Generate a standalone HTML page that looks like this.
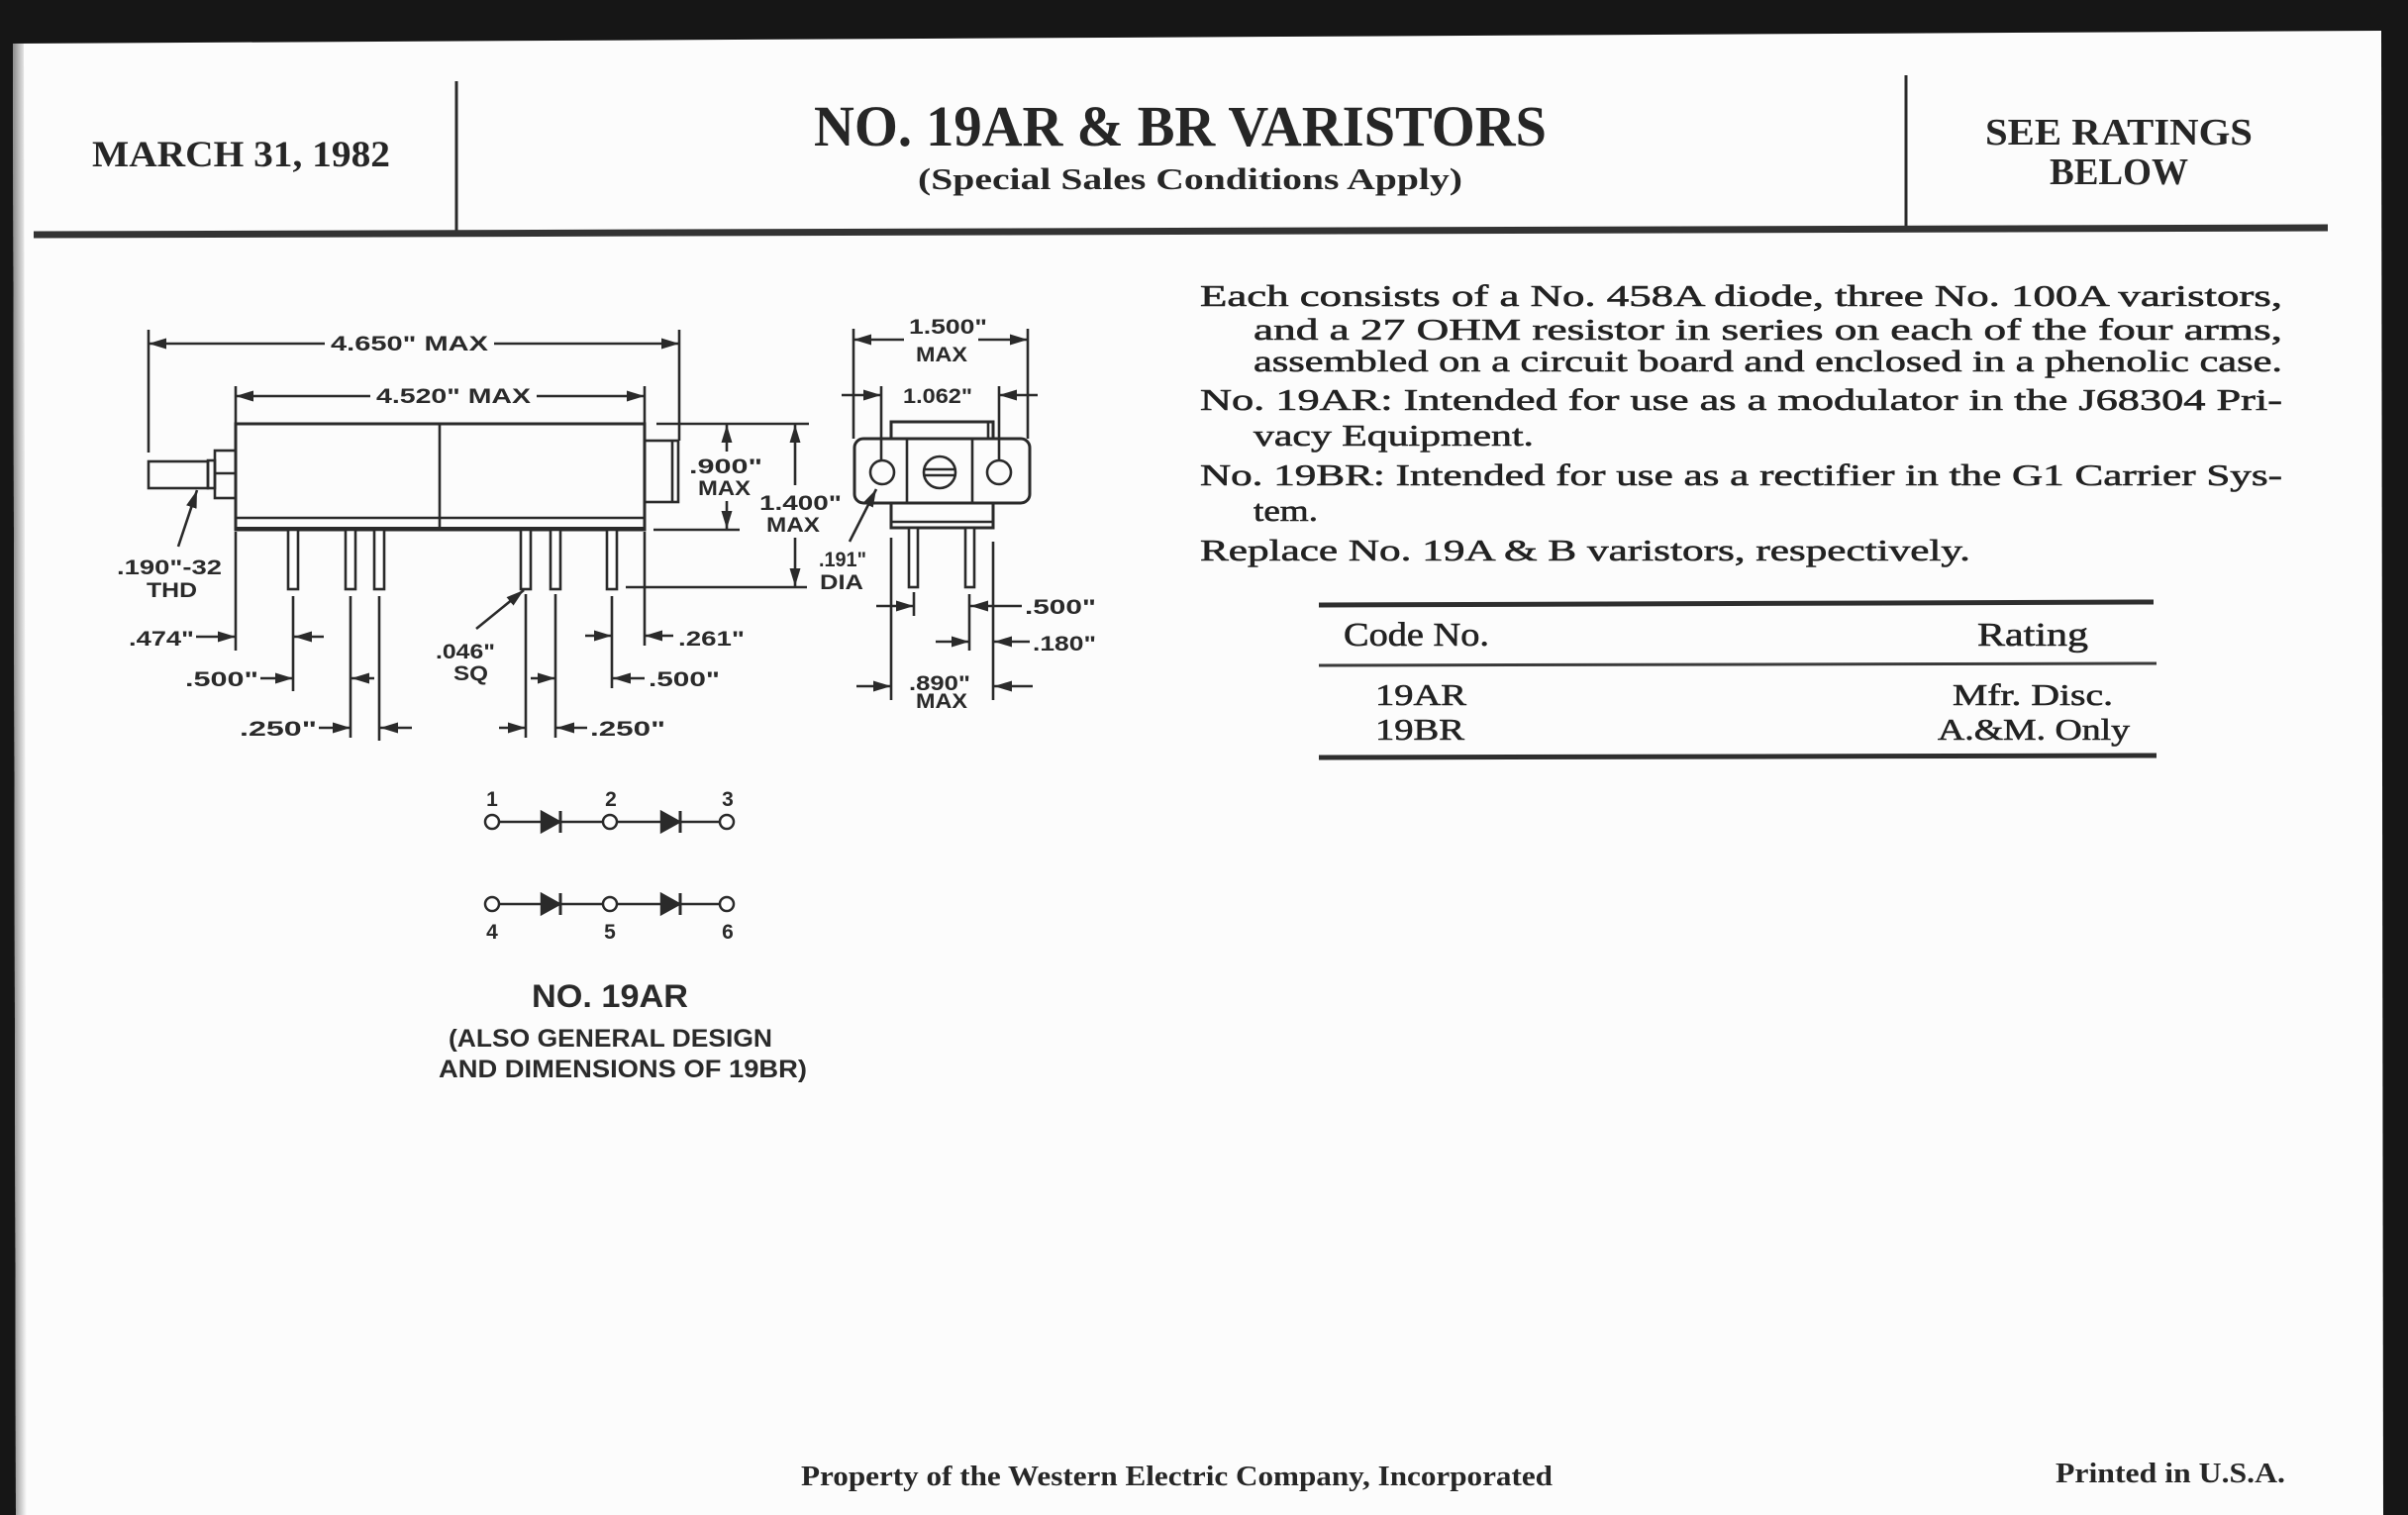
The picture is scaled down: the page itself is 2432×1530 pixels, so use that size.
<!DOCTYPE html>
<html><head><meta charset="utf-8"><style>
html,body{margin:0;padding:0;background:#161616;}
svg{display:block}
.hd{font-family:"Liberation Serif",serif;font-weight:bold;fill:#262626;}
.bd{font-family:"Liberation Serif",serif;fill:#222;stroke:#222;stroke-width:0.6;}
.dm{font-family:"Liberation Sans","DejaVu Sans",sans-serif;font-weight:bold;fill:#2a2a2a;font-size:21px;}
</style></head><body>
<svg xmlns="http://www.w3.org/2000/svg" width="2432" height="1530" viewBox="0 0 2432 1530">
<defs>
<marker id="ah" markerWidth="18" markerHeight="12" refX="18" refY="6" orient="auto" markerUnits="userSpaceOnUse"><path d="M0,0.5 L18,6 L0,11.5 z" fill="#2a2a2a"/></marker>
<linearGradient id="lg" x1="0" x2="1"><stop offset="0" stop-color="#8a8a8a"/><stop offset="1" stop-color="#fcfcfc"/></linearGradient>
</defs>
<rect width="2432" height="1530" fill="#161616"/>
<polygon points="13,44 2405,31 2407,1530 16,1530" fill="#fcfcfc"/>
<polygon points="13,44 24,44 27,1530 16,1530" fill="url(#lg)"/>

<!-- HEADER -->
<text class="hd" x="93" y="168" font-size="37" textLength="301" lengthAdjust="spacingAndGlyphs">MARCH 31, 1982</text>
<text class="hd" x="822" y="147" font-size="58" textLength="740" lengthAdjust="spacingAndGlyphs">NO. 19AR &amp; BR VARISTORS</text>
<text class="hd" x="927" y="191" font-size="31" textLength="550" lengthAdjust="spacingAndGlyphs">(Special Sales Conditions Apply)</text>
<text class="hd" x="2005" y="146" font-size="38" textLength="270" lengthAdjust="spacingAndGlyphs">SEE RATINGS</text>
<text class="hd" x="2070" y="186" font-size="38" textLength="140" lengthAdjust="spacingAndGlyphs">BELOW</text>
<line x1="461" y1="82" x2="461" y2="234" stroke="#2a2a2a" stroke-width="3"/>
<line x1="1925" y1="76" x2="1925" y2="229" stroke="#2a2a2a" stroke-width="3"/>
<line x1="34" y1="237" x2="2351" y2="230" stroke="#333" stroke-width="7"/>

<!-- SIDE VIEW DRAWING -->
<g stroke="#2a2a2a" stroke-width="2.6" fill="none">
  <line x1="150" y1="333" x2="150" y2="457"/>
  <line x1="686" y1="333" x2="686" y2="445"/>
  <line x1="328" y1="347" x2="150" y2="347" marker-end="url(#ah)"/>
  <line x1="499" y1="347" x2="686" y2="347" marker-end="url(#ah)"/>
  <line x1="238" y1="390" x2="238" y2="428"/>
  <line x1="651" y1="390" x2="651" y2="428"/>
  <line x1="374" y1="400" x2="238" y2="400" marker-end="url(#ah)"/>
  <line x1="542" y1="400" x2="651" y2="400" marker-end="url(#ah)"/>
  <rect x="238" y="428" width="413" height="107" stroke-width="3"/>
  <line x1="238" y1="523" x2="651" y2="523"/>
  <line x1="238" y1="534" x2="651" y2="534" stroke-width="4"/>
  <line x1="444" y1="428" x2="444" y2="535"/>
  <rect x="217" y="455" width="21" height="48"/>
  <line x1="217" y1="478" x2="238" y2="478"/>
  <rect x="210" y="465" width="7" height="28"/>
  <rect x="150" y="466" width="60" height="27"/>
  <rect x="651" y="445" width="34" height="62"/>
  <line x1="679" y1="445" x2="679" y2="507"/>
  <rect x="291" y="535" width="10" height="60" fill="#fff"/>
  <rect x="349" y="535" width="10" height="60" fill="#fff"/>
  <rect x="378" y="535" width="10" height="60" fill="#fff"/>
  <rect x="526" y="535" width="10" height="60" fill="#fff"/>
  <rect x="556" y="535" width="10" height="60" fill="#fff"/>
  <rect x="613" y="535" width="10" height="60" fill="#fff"/>
  <line x1="238" y1="537" x2="238" y2="657"/>
  <line x1="296" y1="602" x2="296" y2="698"/>
  <line x1="354" y1="602" x2="354" y2="745"/>
  <line x1="383" y1="602" x2="383" y2="748"/>
  <line x1="531" y1="600" x2="531" y2="745"/>
  <line x1="561" y1="600" x2="561" y2="745"/>
  <line x1="618" y1="602" x2="618" y2="695"/>
  <line x1="651" y1="537" x2="651" y2="652"/>
  <line x1="198" y1="643" x2="238" y2="643" marker-end="url(#ah)"/>
  <line x1="327" y1="643" x2="297" y2="643" marker-end="url(#ah)"/>
  <line x1="263" y1="685" x2="296" y2="685" marker-end="url(#ah)"/>
  <line x1="378" y1="685" x2="355" y2="685" marker-end="url(#ah)"/>
  <line x1="322" y1="735" x2="354" y2="735" marker-end="url(#ah)"/>
  <line x1="416" y1="735" x2="384" y2="735" marker-end="url(#ah)"/>
  <line x1="591" y1="642" x2="618" y2="642" marker-end="url(#ah)"/>
  <line x1="680" y1="642" x2="651" y2="642" marker-end="url(#ah)"/>
  <line x1="536" y1="685" x2="561" y2="685" marker-end="url(#ah)"/>
  <line x1="651" y1="685" x2="619" y2="685" marker-end="url(#ah)"/>
  <line x1="504" y1="735" x2="531" y2="735" marker-end="url(#ah)"/>
  <line x1="593" y1="735" x2="562" y2="735" marker-end="url(#ah)"/>
  <line x1="481" y1="635" x2="529" y2="596" marker-end="url(#ah)"/>
  <line x1="180" y1="552" x2="199" y2="495" marker-end="url(#ah)"/>
  <line x1="663" y1="428" x2="817" y2="428"/>
  <line x1="660" y1="535" x2="747" y2="535"/>
  <line x1="632" y1="593" x2="815" y2="593"/>
  <line x1="734" y1="456" x2="734" y2="429" marker-end="url(#ah)"/>
  <line x1="734" y1="506" x2="734" y2="534" marker-end="url(#ah)"/>
  <line x1="803" y1="490" x2="803" y2="429" marker-end="url(#ah)"/>
  <line x1="803" y1="543" x2="803" y2="592" marker-end="url(#ah)"/>
</g>
<text class="dm" x="334" y="354" textLength="159" lengthAdjust="spacingAndGlyphs">4.650" MAX</text>
<text class="dm" x="380" y="407" textLength="156" lengthAdjust="spacingAndGlyphs">4.520" MAX</text>
<text class="dm" x="118" y="580" textLength="106" lengthAdjust="spacingAndGlyphs">.190"-32</text>
<text class="dm" x="148" y="603" textLength="51" lengthAdjust="spacingAndGlyphs">THD</text>
<text class="dm" x="130" y="652" textLength="66" lengthAdjust="spacingAndGlyphs">.474"</text>
<text class="dm" x="187" y="693" textLength="74" lengthAdjust="spacingAndGlyphs">.500"</text>
<text class="dm" x="242" y="743" textLength="78" lengthAdjust="spacingAndGlyphs">.250"</text>
<text class="dm" x="440" y="665" textLength="60" lengthAdjust="spacingAndGlyphs">.046"</text>
<text class="dm" x="458" y="687" textLength="35" lengthAdjust="spacingAndGlyphs">SQ</text>
<text class="dm" x="685" y="652" textLength="67" lengthAdjust="spacingAndGlyphs">.261"</text>
<text class="dm" x="655" y="693" textLength="72" lengthAdjust="spacingAndGlyphs">.500"</text>
<text class="dm" x="596" y="743" textLength="76" lengthAdjust="spacingAndGlyphs">.250"</text>
<text class="dm" x="696" y="478" textLength="74" lengthAdjust="spacingAndGlyphs">.900"</text>
<text class="dm" x="705" y="500" textLength="53" lengthAdjust="spacingAndGlyphs">MAX</text>
<text class="dm" x="767" y="515" textLength="83" lengthAdjust="spacingAndGlyphs">1.400"</text>
<text class="dm" x="774" y="537" textLength="54" lengthAdjust="spacingAndGlyphs">MAX</text>

<!-- END VIEW -->
<g stroke="#2a2a2a" stroke-width="2.6" fill="none">
  <line x1="862" y1="332" x2="862" y2="443"/>
  <line x1="1038" y1="332" x2="1038" y2="443"/>
  <line x1="913" y1="343" x2="862" y2="343" marker-end="url(#ah)"/>
  <line x1="988" y1="343" x2="1038" y2="343" marker-end="url(#ah)"/>
  <line x1="890" y1="390" x2="890" y2="465"/>
  <line x1="1009" y1="390" x2="1009" y2="465"/>
  <line x1="850" y1="399" x2="890" y2="399" marker-end="url(#ah)"/>
  <line x1="1048" y1="399" x2="1009" y2="399" marker-end="url(#ah)"/>
  <rect x="900" y="426" width="103" height="17" stroke-width="3"/>
  <line x1="998" y1="426" x2="998" y2="443"/>
  <rect x="863" y="443" width="177" height="65" rx="9" stroke-width="3"/>
  <line x1="916" y1="443" x2="916" y2="508"/>
  <line x1="982" y1="443" x2="982" y2="508"/>
  <circle cx="891" cy="477" r="12"/>
  <circle cx="1009" cy="477" r="12"/>
  <circle cx="949" cy="477" r="16"/>
  <line x1="934" y1="474" x2="964" y2="474"/>
  <line x1="934" y1="480" x2="964" y2="480"/>
  <rect x="900" y="508" width="103" height="25" stroke-width="3"/>
  <line x1="900" y1="527" x2="1003" y2="527"/>
  <rect x="918" y="533" width="9" height="60" fill="#fff"/>
  <rect x="975" y="533" width="9" height="60" fill="#fff"/>
  <line x1="858" y1="547" x2="885" y2="494" marker-end="url(#ah)"/>
  <line x1="900" y1="543" x2="900" y2="707"/>
  <line x1="923" y1="598" x2="923" y2="622"/>
  <line x1="979" y1="600" x2="979" y2="657"/>
  <line x1="1003" y1="547" x2="1003" y2="707"/>
  <line x1="885" y1="612" x2="923" y2="612" marker-end="url(#ah)"/>
  <line x1="1032" y1="612" x2="980" y2="612" marker-end="url(#ah)"/>
  <line x1="945" y1="648" x2="979" y2="648" marker-end="url(#ah)"/>
  <line x1="1040" y1="648" x2="1004" y2="648" marker-end="url(#ah)"/>
  <line x1="865" y1="693" x2="900" y2="693" marker-end="url(#ah)"/>
  <line x1="1043" y1="693" x2="1004" y2="693" marker-end="url(#ah)"/>
</g>
<text class="dm" x="918" y="337" textLength="79" lengthAdjust="spacingAndGlyphs">1.500"</text>
<text class="dm" x="925" y="365" textLength="52" lengthAdjust="spacingAndGlyphs">MAX</text>
<text class="dm" x="912" y="407" textLength="70" lengthAdjust="spacingAndGlyphs">1.062"</text>
<text class="dm" x="827" y="572" textLength="48" lengthAdjust="spacingAndGlyphs">.191"</text>
<text class="dm" x="828" y="595" textLength="44" lengthAdjust="spacingAndGlyphs">DIA</text>
<text class="dm" x="1035" y="620" textLength="72" lengthAdjust="spacingAndGlyphs">.500"</text>
<text class="dm" x="1043" y="657" textLength="64" lengthAdjust="spacingAndGlyphs">.180"</text>
<text class="dm" x="918" y="697" textLength="62" lengthAdjust="spacingAndGlyphs">.890"</text>
<text class="dm" x="925" y="715" textLength="52" lengthAdjust="spacingAndGlyphs">MAX</text>

<!-- SCHEMATIC -->
<g stroke="#2a2a2a" stroke-width="2.5" fill="none">
  <line x1="504" y1="830" x2="609" y2="830"/>
  <line x1="623" y1="830" x2="727" y2="830"/>
  <circle cx="497" cy="830" r="7" fill="#fff"/>
  <circle cx="616" cy="830" r="7" fill="#fff"/>
  <circle cx="734" cy="830" r="7" fill="#fff"/>
  <path d="M547,820 L565,830 L547,840 z" fill="#2a2a2a"/>
  <line x1="566" y1="819" x2="566" y2="841" stroke-width="3"/>
  <path d="M668,820 L686,830 L668,840 z" fill="#2a2a2a"/>
  <line x1="687" y1="819" x2="687" y2="841" stroke-width="3"/>
  <line x1="504" y1="913" x2="609" y2="913"/>
  <line x1="623" y1="913" x2="727" y2="913"/>
  <circle cx="497" cy="913" r="7" fill="#fff"/>
  <circle cx="616" cy="913" r="7" fill="#fff"/>
  <circle cx="734" cy="913" r="7" fill="#fff"/>
  <path d="M547,903 L565,913 L547,923 z" fill="#2a2a2a"/>
  <line x1="566" y1="902" x2="566" y2="924" stroke-width="3"/>
  <path d="M668,903 L686,913 L668,923 z" fill="#2a2a2a"/>
  <line x1="687" y1="902" x2="687" y2="924" stroke-width="3"/>
</g>
<g class="dm" style="font-size:21px" text-anchor="middle">
  <text x="497" y="814">1</text>
  <text x="617" y="814">2</text>
  <text x="735" y="814">3</text>
  <text x="497" y="948">4</text>
  <text x="616" y="948">5</text>
  <text x="735" y="948">6</text>
</g>
<text class="dm" x="537" y="1017" style="font-size:32px" textLength="158" lengthAdjust="spacingAndGlyphs">NO. 19AR</text>
<text class="dm" x="453" y="1057" style="font-size:25px" textLength="327" lengthAdjust="spacingAndGlyphs">(ALSO GENERAL DESIGN</text>
<text class="dm" x="443" y="1088" style="font-size:25px" textLength="372" lengthAdjust="spacingAndGlyphs">AND DIMENSIONS OF 19BR)</text>

<!-- BODY TEXT -->
<g class="bd" font-size="31">
  <text x="1212" y="309" textLength="1093" lengthAdjust="spacingAndGlyphs">Each consists of a No. 458A diode, three No. 100A varistors,</text>
  <text x="1266" y="343" textLength="1039" lengthAdjust="spacingAndGlyphs">and a 27 OHM resistor in series on each of the four arms,</text>
  <text x="1266" y="375" textLength="1039" lengthAdjust="spacingAndGlyphs">assembled on a circuit board and enclosed in a phenolic case.</text>
  <text x="1212" y="414" textLength="1093" lengthAdjust="spacingAndGlyphs">No. 19AR: Intended for use as a modulator in the J68304 Pri-</text>
  <text x="1266" y="450" textLength="283" lengthAdjust="spacingAndGlyphs">vacy Equipment.</text>
  <text x="1212" y="490" textLength="1093" lengthAdjust="spacingAndGlyphs">No. 19BR: Intended for use as a rectifier in the G1 Carrier Sys-</text>
  <text x="1266" y="526" textLength="65" lengthAdjust="spacingAndGlyphs">tem.</text>
  <text x="1212" y="566" textLength="778" lengthAdjust="spacingAndGlyphs">Replace No. 19A &amp; B varistors, respectively.</text>
</g>

<!-- TABLE -->
<line x1="1332" y1="611" x2="2175" y2="608" stroke="#2e2e2e" stroke-width="5"/>
<line x1="1332" y1="672" x2="2178" y2="670" stroke="#3a3a3a" stroke-width="3"/>
<line x1="1332" y1="765" x2="2178" y2="763" stroke="#2e2e2e" stroke-width="5"/>
<text class="bd" x="1357" y="652" font-size="34" textLength="147" lengthAdjust="spacingAndGlyphs">Code No.</text>
<text class="bd" x="1997" y="652" font-size="34" textLength="112" lengthAdjust="spacingAndGlyphs">Rating</text>
<text class="bd" x="1389" y="712" font-size="31" textLength="92" lengthAdjust="spacingAndGlyphs">19AR</text>
<text class="bd" x="1389" y="747" font-size="31" textLength="90" lengthAdjust="spacingAndGlyphs">19BR</text>
<text class="bd" x="1972" y="712" font-size="31" textLength="162" lengthAdjust="spacingAndGlyphs">Mfr. Disc.</text>
<text class="bd" x="1957" y="747" font-size="31" textLength="194" lengthAdjust="spacingAndGlyphs">A.&amp;M. Only</text>

<!-- FOOTER -->
<text class="hd" x="809" y="1500" font-size="28" textLength="759" lengthAdjust="spacingAndGlyphs">Property of the Western Electric Company, Incorporated</text>
<text class="hd" x="2076" y="1497" font-size="28" textLength="232" lengthAdjust="spacingAndGlyphs">Printed in U.S.A.</text>
</svg>
</body></html>
